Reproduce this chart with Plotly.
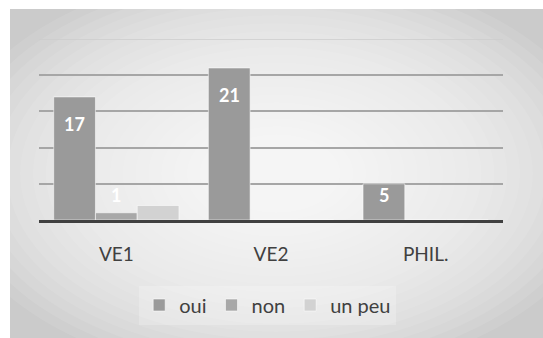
import plotly.graph_objects as go

# Survey answers per course
categories = ["VE1", "VE2", "PHIL."]
series_names = ["oui", "non", "un peu"]
oui = [17, 21, 5]
non = [1, 0, 0]
un_peu = [2, 0, 0]

W, H = 543, 338
FONT = "Lato"

colors = {"oui": "#9a9a9a", "non": "#a8a8a8", "un peu": "#d2d2d2"}
bar_line = dict(color="rgba(255,255,255,0.55)", width=1)

fig = go.Figure()
for name, vals in zip(series_names, [oui, non, un_peu]):
    fig.add_trace(go.Bar(name=name, x=categories, y=vals,
                         marker=dict(color=colors[name], line=bar_line),
                         hoverinfo="skip"))

# Value labels, anchored on each bar top (data coords) and nudged in pixels
PLOT_W = 503 - 39                     # plot width in px
slot = PLOT_W / len(categories)
bar_px = slot * (1 - 0.19) / 3        # width of one bar in a group
label_font = dict(family=FONT, size=18, color="white", weight="bold")
annotations = []
for cat, v in zip(categories, oui):
    if v > 0:
        annotations.append(dict(x=cat, y=v, xref="x", yref="y", text=str(v),
                                showarrow=False, xshift=-bar_px, yanchor="middle",
                                yshift=-27 if v >= 10 else -11, font=label_font))
for cat, v in zip(categories, non):
    if v > 0:
        annotations.append(dict(x=cat, y=v, xref="x", yref="y", text=str(v),
                                showarrow=False, xshift=0, yanchor="middle",
                                yshift=18, font=label_font))

# Chart area: grey panel with a soft radial highlight towards the middle
box_x0, box_y1 = 10 / W, 1 - 9 / H
shapes = [dict(type="rect", xref="paper", yref="paper", x0=box_x0, x1=1, y0=0, y1=box_y1,
               fillcolor="#cbcbcb", line=dict(width=0), layer="below")]
cx, cy = (10 + W) / 2 / W, 1 - (9 + H) / 2 / H
steps = 26
for k in range(steps):
    f = 1.25 * (1 - k / steps)
    rx = f * (W - 10) / 2 / W
    ry = f * (H - 9) / 2 / H
    shapes.append(dict(type="circle", xref="paper", yref="paper",
                       x0=cx - rx, x1=cx + rx, y0=cy - ry, y1=cy + ry,
                       fillcolor="rgba(255,255,255,0.09)", line=dict(width=0), layer="below"))
# lighter top gridline
shapes.append(dict(type="line", xref="x domain", yref="y", x0=0, x1=1, y0=25, y1=25,
                   line=dict(color="#cccccc", width=1.5), layer="below"))

fig.update_layout(
    width=W, height=H,
    margin=dict(l=0, r=0, t=0, b=0),
    paper_bgcolor="white", plot_bgcolor="rgba(0,0,0,0)",
    barmode="group", bargap=0.19, bargroupgap=0,
    shapes=shapes, annotations=annotations,
    showlegend=True,
    legend=dict(orientation="h", x=0.493, xanchor="center", y=1 - 305 / H, yanchor="middle",
                font=dict(family=FONT, size=20, color="#404040"),
                bgcolor="rgba(255,255,255,0.22)", itemclick=False),
    font=dict(family=FONT),
    xaxis=dict(domain=[39 / W, 503 / W], showline=True, linecolor="#404040", linewidth=3,
               layer="above traces", showgrid=False, ticks="",
               tickfont=dict(family=FONT, size=19, color="#404040"),
               ticklabelstandoff=15),
    yaxis=dict(domain=[1 - 220 / H, 1 - 39 / H], range=[0, 25],
               tickvals=[5, 10, 15, 20], showticklabels=False,
               showgrid=True, gridcolor="#a6a6a6", gridwidth=1.5,
               zeroline=False, showline=False),
)

fig.write_html("out.html")
